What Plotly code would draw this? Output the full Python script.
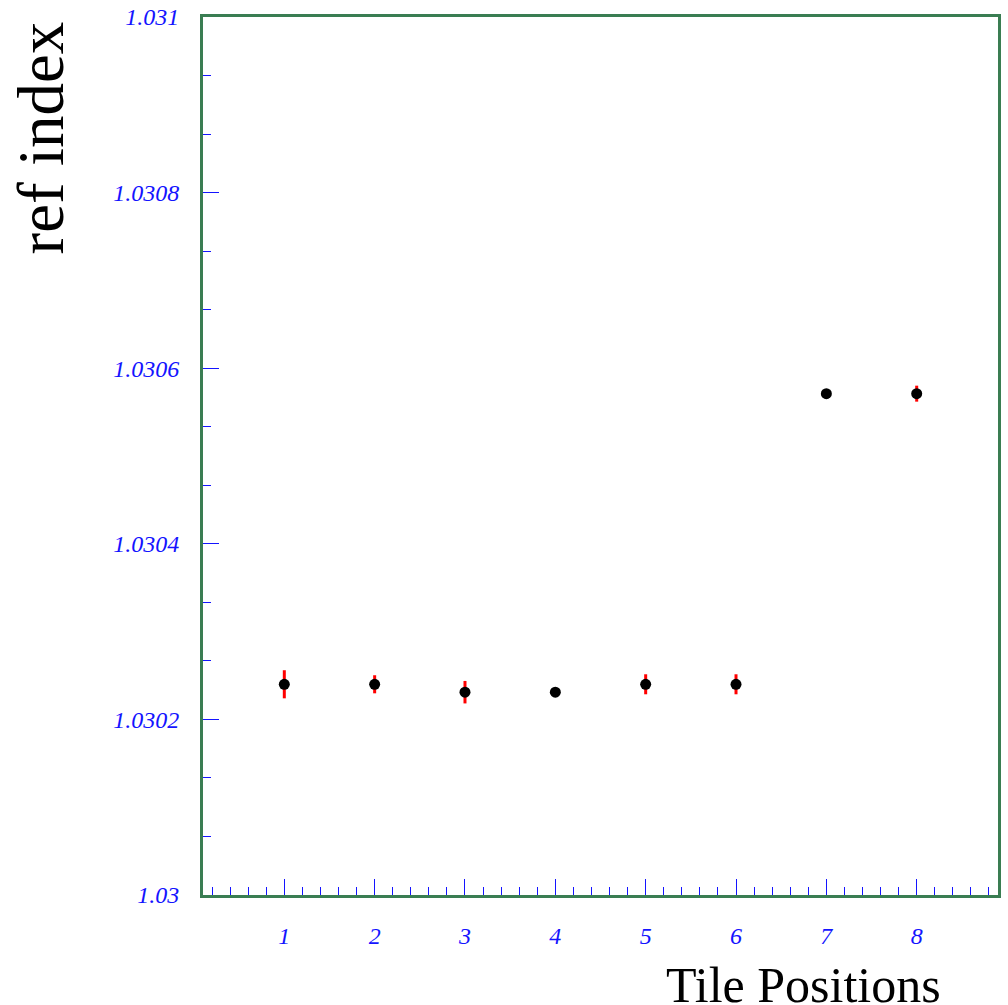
import plotly.graph_objects as go

# Tile refractive index measurements
tile_positions = [1, 2, 3, 4, 5, 6, 7, 8]
ref_index = [1.030240, 1.030240, 1.030231, 1.030231, 1.030240, 1.030240, 1.030571, 1.030571]
ref_index_err = [0.0000160, 0.0000103, 0.0000128, 0.0000040, 0.0000114, 0.0000114, 0.0000040, 0.0000091]

y_tick_vals = [1.03, 1.0302, 1.0304, 1.0306, 1.0308, 1.031]
y_tick_text = ["1.03", "1.0302", "1.0304", "1.0306", "1.0308", "1.031"]
x_tick_vals = [1, 2, 3, 4, 5, 6, 7, 8]
x_tick_text = ["1", "2", "3", "4", "5", "6", "7", "8"]

Y_RANGE = [1.03, 1.031]
# three subdivisions between labelled y ticks
y_minor_vals = [Y_RANGE[0] + i * 0.0002 / 3 for i in range(16) if i % 3]

FRAME = "#3a7d52"
TICK = "#1414ff"
SERIF = "Liberation Serif, Times New Roman, serif"

fig = go.Figure()
fig.add_trace(go.Scatter(
    x=tile_positions,
    y=ref_index,
    mode="markers",
    marker=dict(color="black", size=11, symbol="circle"),
    error_y=dict(type="data", array=ref_index_err, visible=True,
                 color="red", thickness=3, width=0),
    showlegend=False,
))

tick_font = dict(family=SERIF, size=24, color=TICK, style="italic")

fig.update_layout(
    width=1008,
    height=1005,
    margin=dict(l=203, r=10, t=17, b=110, pad=0, autoexpand=False),
    paper_bgcolor="white",
    plot_bgcolor="white",
    xaxis=dict(
        range=[0.1, 8.9], automargin=False,
        tickmode="array", tickvals=x_tick_vals, ticktext=x_tick_text,
        ticks="inside", ticklen=16, tickwidth=1, tickcolor=TICK,
        minor=dict(dtick=0.2, tick0=0, ticks="inside", ticklen=8,
                   tickwidth=1, tickcolor=TICK, showgrid=False),
        showline=True, linecolor=FRAME, linewidth=3, mirror=True,
        showgrid=False, zeroline=False,
        tickfont=tick_font, ticklabelstandoff=17,
    ),
    yaxis=dict(
        range=Y_RANGE, automargin=False,
        tickmode="array", tickvals=y_tick_vals, ticktext=y_tick_text,
        ticks="inside", ticklen=16, tickwidth=1, tickcolor=TICK,
        showline=True, linecolor=FRAME, linewidth=3, mirror=True,
        showgrid=False, zeroline=False,
        tickfont=tick_font, ticklabelstandoff=16,
    ),
    # unlabeled overlay axis carrying the short y subdivision ticks
    yaxis2=dict(
        range=Y_RANGE, overlaying="y", side="left", automargin=False,
        tickmode="array", tickvals=y_minor_vals, showticklabels=False,
        ticks="inside", ticklen=8, tickwidth=1, tickcolor=TICK,
        showline=False, showgrid=False, zeroline=False,
    ),
    annotations=[
        dict(text="ref index", textangle=-90, showarrow=False,
             xref="paper", yref="paper",
             x=(40 - 203) / 795, y=1, xanchor="center", yanchor="top", yshift=-3,
             font=dict(family=SERIF, size=65, color="black")),
        dict(text="Tile Positions", showarrow=False,
             xref="paper", yref="paper",
             x=(943 - 203) / 795, y=(895 - 985) / 878,
             xanchor="right", yanchor="middle",
             font=dict(family=SERIF, size=50, color="black")),
    ],
)

# invisible trace that activates the overlay axis
fig.add_trace(go.Scatter(x=[tile_positions[0]], y=[ref_index[0]], yaxis="y2",
                         mode="markers", marker=dict(opacity=0),
                         hoverinfo="skip", showlegend=False))

fig.write_html("out.html")
